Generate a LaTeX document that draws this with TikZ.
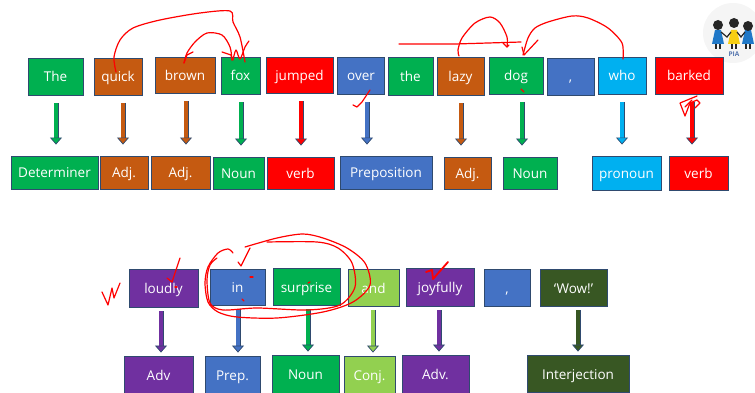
\documentclass[tikz,border=0pt]{standalone}
\usepackage{fontspec}
\setmainfont{Open Sans}
\usetikzlibrary{arrows.meta}
\definecolor{grn}{HTML}{00B050}
\definecolor{brn}{HTML}{C55A11}
\definecolor{rd}{HTML}{FF0000}
\definecolor{blu}{HTML}{4472C4}
\definecolor{cyn}{HTML}{00B0F0}
\definecolor{prp}{HTML}{7030A0}
\definecolor{lgr}{HTML}{92D050}
\definecolor{dgr}{HTML}{385723}
\definecolor{boxedge}{HTML}{2F4A6F}
\definecolor{dress}{HTML}{1F78C8}
\definecolor{sun}{HTML}{F7CE12}
\tikzset{>=stealth,
  wordbox/.style={draw=boxedge,line width=.9pt,fill=#1,text=white,inner sep=0pt,
    text height=12pt,text depth=1pt,font=\fontsize{13.5}{15}\selectfont},
  tagarrow/.style={draw=boxedge,line width=.7pt,double=#1,double distance=3.6pt,
    shorten <=8pt,shorten >=11pt,-{Triangle[width=12pt,length=7pt,fill=#1]}},
  ink/.style={draw=red,line width=1.2pt,line cap=round,line join=round}
}
\begin{document}
\begin{tikzpicture}[x=1pt,y=-1pt]
\useasboundingbox (0,0) rectangle (755,393);
% badge
\begin{scope}
\clip (700,0) rectangle (755,70);
\fill[gray!8] (733,33) circle (30);
\foreach \hx/\hy/\col in {718/25/dress,734/23/sun,748/26/dress}{
  \draw[black!85,line width=1.3pt] (\hx-2,42) -- (\hx-2,49) (\hx+2,42) -- (\hx+2,49);
  \fill[\col] (\hx-6,44) -- (\hx-3,30) -- (\hx+3,30) -- (\hx+6,44) -- cycle;
  \fill[black!85] (\hx,\hy) circle (5);
}
\draw[black!85,line width=1.2pt] (721,32) -- (727,37) -- (731,32) (737,32) -- (741,37) -- (745,32);
\node[text=blu!70!gray,inner sep=0pt,font=\bfseries\fontsize{6.5}{7}\selectfont] (pia) at (734,54) {PIA};
\end{scope}
% first sentence
\node[wordbox=grn,minimum width=55pt,minimum height=37pt] (the) at (55.5,76.5) {The};
\node[wordbox=brn,minimum width=48pt,minimum height=37pt] (quick) at (118,76.5) {quick};
\node[wordbox=brn,minimum width=60pt,minimum height=36pt] (brown) at (185,75) {brown};
\node[wordbox=grn,minimum width=39pt,minimum height=37pt] (fox) at (240.5,75.5) {fox};
\node[wordbox=rd,minimum width=67pt,minimum height=36pt] (jumped) at (299.5,75) {jumped};
\node[wordbox=blu,minimum width=47pt,minimum height=37pt] (over) at (361,75.5) {over};
\node[wordbox=grn,minimum width=45pt,minimum height=38pt] (theb) at (410.5,76) {the};
\node[wordbox=brn,minimum width=47pt,minimum height=38pt] (lazy) at (460.5,76) {lazy};
\node[wordbox=grn,minimum width=54pt,minimum height=37pt] (dog) at (516,75.5) {dog};
\node[wordbox=blu,minimum width=47pt,minimum height=37pt] (comma) at (570.5,76.5) {,};
\node[wordbox=cyn,minimum width=48pt,minimum height=37pt] (who) at (622,75.5) {who};
\node[wordbox=rd,minimum width=68pt,minimum height=37pt] (barked) at (689,75.5) {barked};
\node[wordbox=grn,minimum width=87pt,minimum height=33pt] (det) at (54.5,172.5) {Determiner};
\node[wordbox=brn,minimum width=48pt,minimum height=33pt] (adja) at (124,172.5) {Adj.};
\node[wordbox=brn,minimum width=59pt,minimum height=33pt] (adjb) at (180.5,172.5) {Adj.};
\node[wordbox=grn,minimum width=51pt,minimum height=32pt] (nouna) at (238.5,173) {Noun};
\node[wordbox=rd,minimum width=67pt,minimum height=32pt] (verba) at (300.5,173) {verb};
\node[wordbox=blu,minimum width=92pt,minimum height=33pt] (prepa) at (386,172.5) {Preposition};
\node[wordbox=brn,minimum width=47pt,minimum height=32pt] (adjc) at (467.5,173) {Adj.};
\node[wordbox=grn,minimum width=54pt,minimum height=32pt] (nounb) at (530,173) {Noun};
\node[wordbox=cyn,minimum width=69pt,minimum height=34pt] (pron) at (626.5,173) {pronoun};
\node[wordbox=rd,minimum width=59pt,minimum height=34pt] (verbb) at (698.5,173) {verb};
\foreach \from/\to/\ax/\col in {the/det/56/grn,quick/adja/123/brn,brown/adjb/186/brn,
  fox/nouna/241/grn,jumped/verba/301/rd,over/prepa/367/blu,lazy/adjc/461/brn,
  dog/nounb/522/grn,who/pron/622/cyn,barked/verbb/692/rd}
\draw[tagarrow=\col] (\ax,0 |- \from.south) -- (\ax,0 |- \to.north);
% second sentence
\node[wordbox=prp,minimum width=69pt,minimum height=38pt] (loudly) at (163.5,288) {loudly};
\node[wordbox=blu,minimum width=55pt,minimum height=36pt] (in) at (237.5,287) {in};
\node[wordbox=grn,minimum width=67pt,minimum height=37pt] (surprise) at (306.5,286.5) {surprise};
\node[wordbox=lgr,minimum width=51pt,minimum height=37pt] (and) at (373.5,287.5) {and};
\node[wordbox=prp,minimum width=68pt,minimum height=38pt] (joy) at (440,287) {joyfully};
\node[wordbox=blu,minimum width=46pt,minimum height=37pt] (commb) at (507,287.5) {,};
\node[wordbox=dgr,minimum width=67pt,minimum height=37pt] (wow) at (573.5,287.5) {‘Wow!’};
\node[wordbox=prp,minimum width=69pt,minimum height=37pt] (adv) at (158.5,374.5) {Adv};
\node[wordbox=blu,minimum width=55pt,minimum height=37pt] (prepb) at (232.5,374.5) {Prep.};
\node[wordbox=grn,minimum width=67pt,minimum height=38pt] (nounc) at (305.5,374) {Noun};
\node[wordbox=lgr,minimum width=51pt,minimum height=37pt] (conj) at (369.5,374.5) {Conj.};
\node[wordbox=prp,minimum width=67pt,minimum height=38pt] (advb) at (435.5,374) {Adv.};
\node[wordbox=dgr,minimum width=102pt,minimum height=37pt] (interj) at (578,373.5) {Interjection};
\foreach \from/\to/\ax/\col in {loudly/adv/161/prp,in/prepb/238/blu,surprise/nounc/308/grn,
  and/conj/373/lgr,joy/advb/439/prp,wow/interj/578/dgr}
\draw[tagarrow=\col,shorten <=4pt,shorten >=3pt] (\ax,0 |- \from.south) -- (\ax,0 |- \to.north);
% pen marks
\draw[ink] plot[smooth] coordinates {(116,72)(114,57)(120,40)(133,28)(160,20)(200,13)(230,11)(233,22)(240,37)(245,62)};
\draw[ink] plot[smooth] coordinates {(233,60)(236,50)(240,59)(245,47)(249,41)};
\draw[ink] plot[smooth] coordinates {(232,60)(230,47)(222,35)(207,33)(195,42)(187,53)(184,63)};
\draw[ink] (184,63) -- (187,55) -- (193,52);
\draw[ink] (222,52) -- (231,55) -- (232,60);
\draw[ink] (399,44) -- (455,44) -- (521,42);
\draw[ink] plot[smooth] coordinates {(459,56)(458,50)(462,38)(475,23)(490,17)(500,23)(507,37)(507,47)};
\draw[ink] (503,43) -- (507,47) -- (509,45);
\draw[ink] plot[smooth] coordinates {(623,59)(622,43)(608,28)(588,18)(572,16)(548,22)(535,28)(528,38)(523,55)};
\draw[ink] (522,47) -- (524,55) -- (538,40);
\draw[ink] (521,89) -- (524,92);
\draw[ink] (370,90) -- (362,102) -- (357,107) -- (353,105);
\draw[ink] (697,96) -- (680,103) -- (685,116) -- (690,103) -- (697,100) -- (700,103) -- (695,108);
\draw[ink] (692,100) -- (685,107);
\draw[ink] (102,292) -- (108,305) -- (112,288) -- (114,298) -- (120,283);
\draw[ink] (167,278) -- (172,282) -- (180,258);
\draw[ink] (175,287) -- (177,287);
\draw[ink] (238,262) -- (241,266) -- (250,248);
\draw[ink] plot[smooth] coordinates {(233,253)(228,249)(218,253)(208,267)(205,283)(208,302)(218,312)(237,317)(277,318)(323,312)(353,302)(370,285)(365,263)(347,248)(323,238)(303,234)(277,238)(245,247)};
\draw[ink] plot[smooth] coordinates {(217,258)(210,265)(207,280)(210,303)(223,310)(257,308)(307,310)(340,305)(355,287)(352,263)(338,248)(317,242)(267,242)};
\draw[ink] (250,277) -- (253,277);
\draw[ink] (242,299) -- (244,301);
\draw[ink] (308,283) -- (310,282);
\draw[ink,line width=1.8pt] (426,272) -- (432,270) -- (433,279) -- (448,262);
\end{tikzpicture}
\end{document}
